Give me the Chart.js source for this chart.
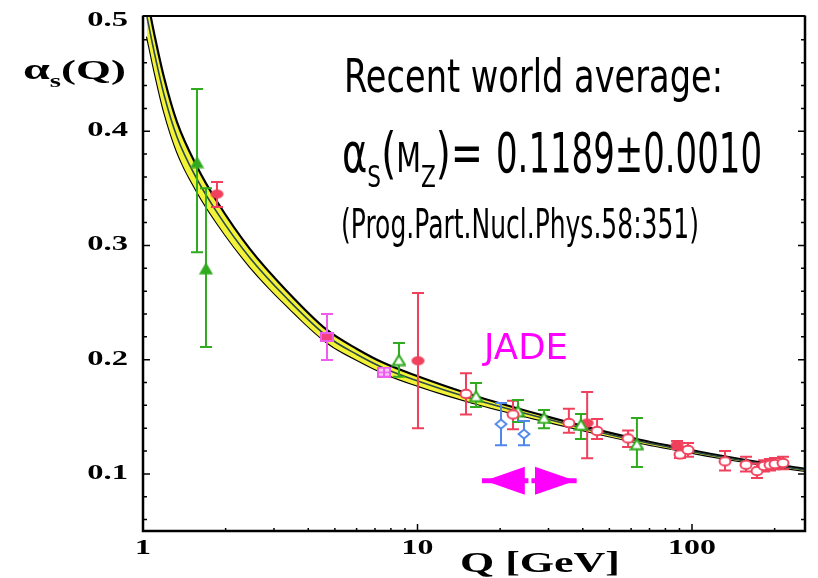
<!DOCTYPE html>
<html><head><meta charset="utf-8">
<script src="https://cdn.jsdelivr.net/npm/chart.js@4/dist/chart.umd.min.js"></script>
<style>html,body{margin:0;padding:0;background:#fff;}canvas{display:block;}</style>
</head><body>
<canvas id="c" width="818" height="578"></canvas>
<script>
// ---------- data ----------
const curveQ     = [1.034, 1.106, 1.193, 1.330, 1.573, 1.860, 2.454, 3.346, 4.680, 6.02, 7.55, 9.96, 15.93, 27.95, 42.5, 64.6, 85.3, 126.5, 176.9, 258];
const curveAlpha = [0.500, 0.466, 0.432, 0.395, 0.358, 0.329, 0.289, 0.2535, 0.2205, 0.2045, 0.1925, 0.1815, 0.1655, 0.1495, 0.1385, 0.1285, 0.1228, 0.1150, 0.1092, 0.1035];
const bandUpper  = [0.517, 0.482, 0.447, 0.408, 0.369, 0.3385, 0.2968, 0.260, 0.226, 0.2094, 0.197, 0.1857, 0.1689, 0.1519, 0.1403, 0.1299, 0.1240, 0.1161, 0.1102, 0.1045];
const bandLower  = [0.483, 0.450, 0.417, 0.382, 0.347, 0.3195, 0.2812, 0.247, 0.215, 0.1996, 0.188, 0.1773, 0.1621, 0.1471, 0.1367, 0.1271, 0.1216, 0.1139, 0.1082, 0.1025];

const greenFilledQ  = [1.573, 1.696];
const greenFilledA  = [0.373, 0.280];
const greenFilledHi = [0.437, 0.350];
const greenFilledLo = [0.294, 0.211];

const redFilledQ  = [1.86, 10.04, 41.5, 88.2];
const redFilledA  = [0.345, 0.199, 0.1445, 0.1252];
const redFilledHi = [0.3555, 0.2583, 0.1716, 0.1287];
const redFilledLo = [0.3336, 0.140, 0.1138, 0.1217];

const magentaQ  = [4.68, 7.55];
const magentaA  = [0.2198, 0.1891];
const magentaHi = [0.240, 0.192];
const magentaLo = [0.1997, 0.186];

const greenOpenQ  = [8.56, 16.34, 23.23, 28.9, 39.4, 63.0];
const greenOpenA  = [0.1997, 0.168, 0.155, 0.149, 0.143, 0.126];
const greenOpenHi = [0.2145, 0.1795, 0.1646, 0.156, 0.1524, 0.149];
const greenOpenLo = [0.185, 0.1585, 0.1454, 0.140, 0.1305, 0.106];

const blueOpenQ  = [20.15, 24.43];
const blueOpenA  = [0.1436, 0.1349];
const blueOpenHi = [0.162, 0.1462];
const blueOpenLo = [0.125, 0.125];

const redOpenQ  = [15.02, 22.28, 35.6, 45.1, 58.5, 90.4, 96.7, 131.9, 157.3, 172.5, 183, 192.4, 200.6, 214.6];
const redOpenA  = [0.170, 0.152, 0.1445, 0.1375, 0.131, 0.117, 0.121, 0.111, 0.108, 0.1025, 0.107, 0.108, 0.1086, 0.1095];
const redOpenHi = [0.188, 0.164, 0.157, 0.148, 0.138, 0.1235, 0.127, 0.120, 0.115, 0.109, 0.112, 0.113, 0.114, 0.115];
const redOpenLo = [0.152, 0.139, 0.136, 0.1305, 0.1235, 0.114, 0.115, 0.103, 0.102, 0.0963, 0.102, 0.103, 0.104, 0.104];

const jadeRange = [17.17, 38.0];            // shaft ends (Q)
const jadeHeads = [17.6, 24.6, 26.8, 37.6]; // left tip, left base, right base, right tip
const jadeAlpha = 0.094;

const yMajorTicks = [0.1, 0.2, 0.3, 0.4, 0.5];
const yTickLabels = ['0.1', '0.2', '0.3', '0.4', '0.5'];
const xMajorTicks = [1, 10, 100];
const xTickLabels = ['1', '10', '100'];

// ---------- styling ----------
const RED = '#f0405c', GREEN = '#30aa1e', BLUE = '#4f86ea', MAG = '#ee5cee', MAGFILL = '#f2407e';
const SERIF = '"Liberation Serif", "Times New Roman", serif';
const SANS = '"DejaVu Sans", sans-serif';

function mk(w, h, draw) { const c = document.createElement('canvas'); c.width = w; c.height = h; draw(c.getContext('2d')); return c; }
const markers = {
  redOpen: mk(14, 12, g => { g.beginPath(); g.ellipse(7, 6, 5.5, 4.2, 0, 0, 2 * Math.PI); g.fillStyle = '#fff'; g.fill(); g.lineWidth = 2; g.strokeStyle = RED; g.stroke(); }),
  redFilled: mk(15, 11, g => { g.beginPath(); g.ellipse(7.5, 5.5, 6.5, 4.5, 0, 0, 2 * Math.PI); g.fillStyle = RED; g.fill(); }),
  greenFilled: mk(15, 13, g => { g.beginPath(); g.moveTo(7.5, 0.5); g.lineTo(14.5, 12.5); g.lineTo(0.5, 12.5); g.closePath(); g.fillStyle = GREEN; g.fill(); }),
  greenOpen: mk(15, 13, g => { g.beginPath(); g.moveTo(7.5, 1.5); g.lineTo(13.5, 11.5); g.lineTo(1.5, 11.5); g.closePath(); g.fillStyle = '#fff'; g.fill(); g.lineWidth = 2; g.strokeStyle = GREEN; g.stroke(); }),
  blueOpen: mk(14, 12, g => { g.beginPath(); g.moveTo(7, 1.5); g.lineTo(12.5, 6); g.lineTo(7, 10.5); g.lineTo(1.5, 6); g.closePath(); g.fillStyle = '#fff'; g.fill(); g.lineWidth = 1.8; g.strokeStyle = BLUE; g.stroke(); }),
  magFilled: mk(14, 10, g => { g.fillStyle = MAG; g.fillRect(0, 0, 14, 10); g.fillStyle = MAGFILL; g.fillRect(2, 2, 10, 6); }),
  magPattern: mk(14, 11, g => { g.fillStyle = MAG; g.fillRect(0, 0, 14, 11); g.fillStyle = '#f9c8f6'; g.fillRect(2, 2, 10, 7); g.fillStyle = MAG; g.fillRect(6, 2, 2, 7); g.fillRect(2, 5, 10, 1.5); })
};

function pts(qs, as, his, los) { return qs.map((q, i) => ({ x: q, y: as[i], hi: his ? his[i] : null, lo: los ? los[i] : null })); }
function curve(arr) { return curveQ.map((q, i) => ({ x: q, y: arr[i] })); }

const datasets = [
  { label: 'redOpen', data: pts(redOpenQ, redOpenA, redOpenHi, redOpenLo), pointStyle: markers.redOpen, errColor: RED, order: 0 },
  { label: 'greenOpen', data: pts(greenOpenQ, greenOpenA, greenOpenHi, greenOpenLo), pointStyle: markers.greenOpen, errColor: GREEN, order: 1 },
  { label: 'blueOpen', data: pts(blueOpenQ, blueOpenA, blueOpenHi, blueOpenLo), pointStyle: markers.blueOpen, errColor: BLUE, order: 2 },
  { label: 'redFilled', data: pts(redFilledQ, redFilledA, redFilledHi, redFilledLo), pointStyle: markers.redFilled, errColor: RED, order: 3 },
  { label: 'greenFilled', data: pts(greenFilledQ, greenFilledA, greenFilledHi, greenFilledLo), pointStyle: markers.greenFilled, errColor: GREEN, order: 4 },
  { label: 'magenta', data: pts(magentaQ, magentaA, magentaHi, magentaLo), pointStyle: [markers.magFilled, markers.magPattern], errColor: MAG, order: 5 },
  { label: 'center', role: 'center', data: curve(curveAlpha), borderColor: '#2c4848', borderWidth: 1.6, pointRadius: 0, showLine: true, fill: false, cubicInterpolationMode: 'monotone', order: 8 },
  { label: 'upper', data: curve(bandUpper), borderColor: '#000', borderWidth: 2.2, backgroundColor: '#f2f238', pointRadius: 0, showLine: true, fill: '+1', cubicInterpolationMode: 'monotone', order: 9 },
  { label: 'lower', data: curve(bandLower), borderColor: '#000', borderWidth: 2.2, pointRadius: 0, showLine: true, fill: false, cubicInterpolationMode: 'monotone', order: 10 }
];
datasets.forEach(d => { if (d.errColor) { d.showLine = false; d.pointRadius = 5; d.borderWidth = 0; } });

function drawFit(ctx, segs, x, baseline, targetW, color, align) {
  let total = 0; const ws = [];
  segs.forEach(s => { ctx.font = s.font; const w = ctx.measureText(s.t).width; ws.push(w); total += w; });
  const sc = targetW / total;
  const left = align === 'center' ? x - targetW / 2 : align === 'right' ? x - targetW : x;
  ctx.save(); ctx.fillStyle = color; ctx.textAlign = 'left'; ctx.textBaseline = 'alphabetic';
  ctx.translate(left, baseline); ctx.scale(sc, 1);
  let cx = 0;
  segs.forEach((s, i) => { ctx.font = s.font; ctx.fillText(s.t, cx, s.dy || 0); cx += ws[i]; });
  ctx.restore();
}
function drawStretch(ctx, text, font, x, baseline, sx, align, color) {
  ctx.save(); ctx.font = font; ctx.fillStyle = color || '#000'; ctx.textBaseline = 'alphabetic';
  const w = ctx.measureText(text).width * sx;
  const left = align === 'center' ? x - w / 2 : align === 'right' ? x - w : x;
  ctx.translate(left, baseline); ctx.scale(sx, 1); ctx.textAlign = 'left'; ctx.fillText(text, 0, 0);
  ctx.restore();
}

const errorBars = {
  id: 'errorBars',
  afterDatasetDraw(chart, args) {
    if (chart.data.datasets[args.index].role !== 'center') return;
    const ctx = chart.ctx, xs = chart.scales.x, ys = chart.scales.y, ca = chart.chartArea;
    ctx.save();
    ctx.beginPath(); ctx.rect(ca.left, ca.top, ca.right - ca.left, ca.bottom - ca.top); ctx.clip();
    chart.data.datasets.forEach(d => {
      if (!d.errColor) return;
      ctx.strokeStyle = d.errColor; ctx.lineWidth = 2;
      d.data.forEach(p => {
        const x = xs.getPixelForValue(p.x), y1 = ys.getPixelForValue(p.hi), y2 = ys.getPixelForValue(p.lo);
        ctx.beginPath();
        ctx.moveTo(x, y1); ctx.lineTo(x, y2);
        ctx.moveTo(x - 6, y1); ctx.lineTo(x + 6, y1);
        ctx.moveTo(x - 6, y2); ctx.lineTo(x + 6, y2);
        ctx.stroke();
      });
    });
    ctx.restore();
  }
};

const decor = {
  id: 'decor',
  afterDraw(chart) {
    const ctx = chart.ctx, xs = chart.scales.x, ys = chart.scales.y, ca = chart.chartArea;
    ctx.save();
    // frame
    ctx.strokeStyle = '#000';
    ctx.lineWidth = 2.5;
    ctx.beginPath();
    ctx.moveTo(ca.left, ca.top - 1.5); ctx.lineTo(ca.left, ca.bottom);
    ctx.lineTo(ca.right, ca.bottom); ctx.lineTo(ca.right, ca.top - 1.5);
    ctx.stroke();
    ctx.lineWidth = 2;
    ctx.beginPath(); ctx.moveTo(ca.left, ca.top - 1); ctx.lineTo(ca.right, ca.top - 1); ctx.stroke();
    // y ticks (minor every 0.02, both sides, inward)
    ctx.lineWidth = 1.5;
    for (let k = 3; k <= 24; k++) {
      const v = k * 0.02; const y = ys.getPixelForValue(v);
      const major = yMajorTicks.some(t => Math.abs(t - v) < 1e-6);
      const len = major ? 7 : 4;
      ctx.beginPath();
      ctx.moveTo(ca.left, y); ctx.lineTo(ca.left + len, y);
      ctx.moveTo(ca.right, y); ctx.lineTo(ca.right - len, y);
      ctx.stroke();
    }
    // x ticks (log minor), bottom, inward
    [1, 10, 100].forEach(dec => {
      for (let m = 1; m <= 9; m++) {
        const v = dec * m; if (v <= 1 || v > 258) continue;
        const x = xs.getPixelForValue(v);
        const len = m === 1 ? 7 : 3;
        ctx.beginPath(); ctx.moveTo(x, ca.bottom); ctx.lineTo(x, ca.bottom - len); ctx.stroke();
      }
    });
    // tick labels
    yMajorTicks.forEach((v, i) => {
      const y = ys.getPixelForValue(v);
      drawStretch(ctx, yTickLabels[i], 'bold 21px ' + SERIF, 128, Math.max(y + 5, ca.top + 9), 1.55, 'right');
    });
    xMajorTicks.forEach((v, i) => {
      const x = xs.getPixelForValue(v);
      drawStretch(ctx, xTickLabels[i], 'bold 22px ' + SERIF, x, 554, 1.45, 'center');
    });
    // axis titles
    drawFit(ctx, [
      { t: 'α', font: 'bold 30px ' + SERIF },
      { t: 's', font: 'bold 18px ' + SERIF, dy: 8 },
      { t: '(Q)', font: 'bold 28px ' + SERIF }
    ], 23, 79, 103, '#000', 'left');
    drawFit(ctx, [{ t: 'Q [GeV]', font: 'bold 30px ' + SERIF }], 540, 572, 160, '#000', 'center');
    // annotations
    drawFit(ctx, [{ t: 'Recent world average:', font: '46px ' + SANS }], 344, 92, 379, '#000', 'left');
    drawFit(ctx, [
      { t: 'α', font: '55px ' + SANS },
      { t: 'S', font: '31px ' + SANS, dy: 15 },
      { t: '(', font: '55px ' + SANS },
      { t: 'M', font: '41px ' + SANS },
      { t: 'Z', font: '31px ' + SANS, dy: 15 },
      { t: ')=', font: '55px ' + SANS }
    ], 342, 172, 141, '#000', 'left');
    drawFit(ctx, [{ t: '0.1189±0.0010', font: '55px ' + SANS }], 496, 172, 266, '#000', 'left');
    drawFit(ctx, [{ t: '(Prog.Part.Nucl.Phys.58:351)', font: '40px ' + SANS }], 341, 238, 358, '#000', 'left');
    drawFit(ctx, [{ t: 'JADE', font: '36px ' + SANS }], 484, 359, 84, '#ff00ff', 'left');
    // JADE arrow
    const ay = ys.getPixelForValue(jadeAlpha);
    const xt1 = xs.getPixelForValue(jadeRange[0]), xt2 = xs.getPixelForValue(jadeRange[1]);
    const h1 = xs.getPixelForValue(jadeHeads[0]), b1 = xs.getPixelForValue(jadeHeads[1]);
    const b2 = xs.getPixelForValue(jadeHeads[2]), h2 = xs.getPixelForValue(jadeHeads[3]);
    ctx.fillStyle = '#ff00ff';
    ctx.fillRect(xt1, ay - 2.5, xt2 - xt1, 5);
    ctx.beginPath(); ctx.moveTo(h1, ay); ctx.lineTo(b1, ay - 14); ctx.lineTo(b1, ay + 14); ctx.closePath(); ctx.fill();
    ctx.beginPath(); ctx.moveTo(h2, ay); ctx.lineTo(b2, ay - 14); ctx.lineTo(b2, ay + 14); ctx.closePath(); ctx.fill();
    ctx.fillStyle = '#fff';
    ctx.fillRect((b1 + b2) / 2 - 1.5, ay - 15, 3, 30);
    ctx.restore();
  }
};

new Chart(document.getElementById('c'), {
  type: 'line',
  data: { datasets },
  options: {
    responsive: false, animation: false, devicePixelRatio: 1,
    layout: { padding: { left: 143, right: 13, top: 17, bottom: 47 } },
    plugins: { legend: { display: false }, tooltip: { enabled: false } },
    scales: {
      x: { type: 'logarithmic', min: 1, max: 258, display: false },
      y: { type: 'linear', min: 0.05, max: 0.5, display: false }
    }
  },
  plugins: [errorBars, decor]
});
</script>
</body></html>
